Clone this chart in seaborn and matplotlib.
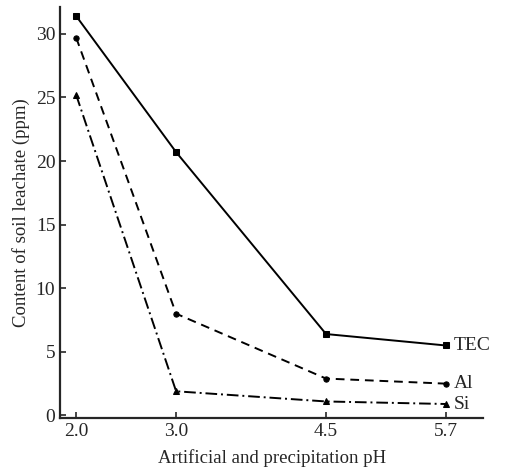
import matplotlib
matplotlib.use("Agg")
import matplotlib.pyplot as plt
import seaborn as sns
import pandas as pd

ph = [2.0, 3.0, 4.5, 5.7]
tec = [31.4, 20.7, 6.4, 5.5]
al = [29.7, 8.0, 2.9, 2.5]
si = [25.2, 1.9, 1.1, 0.9]
series_names = ["TEC", "Al", "Si"]
xticklabels = ["2.0", "3.0", "4.5", "5.7"]
yticks = [0, 5, 10, 15, 20, 25, 30]

sns.set_style("ticks")
plt.rcParams["font.family"] = ["Liberation Serif", "DejaVu Serif"]

fig = plt.figure(figsize=(5.1, 4.75), dpi=100)
ax = fig.add_axes([0.118, 0.12, 0.829, 0.865])

styles = {
    "TEC": dict(linestyle="-", marker="s"),
    "Al": dict(linestyle=(0, (4.5, 3)), marker="o"),
    "Si": dict(linestyle=(0, (6, 2, 1, 2)), marker="^"),
}
values = {"TEC": tec, "Al": al, "Si": si}
for name in series_names:
    df = pd.DataFrame({"pH": ph, "val": values[name]})
    sns.lineplot(data=df, x="pH", y="val", ax=ax, color="black", lw=1.4,
                 markersize=3.8, markeredgecolor="black", **styles[name])
    ax.text(ph[-1] + 0.08, values[name][-1], name, fontsize=14,
            va="center", ha="left")

ax.set_xlim(1.84, 6.07)
ax.set_ylim(-0.2, 32.1)
ax.set_xticks(ph)
ax.set_xticklabels(xticklabels)
ax.set_yticks(yticks)
ax.tick_params(direction="in", length=4, width=1.2, labelsize=14)
for s in ["top", "right"]:
    ax.spines[s].set_visible(False)
for s in ["left", "bottom"]:
    ax.spines[s].set_linewidth(1.6)
ax.set_xlabel("Artificial and precipitation pH", fontsize=13.5, labelpad=7)
ax.set_ylabel("Content of soil leachate (ppm)", fontsize=13.5, labelpad=4)

fig.savefig("out.png", dpi=100)
